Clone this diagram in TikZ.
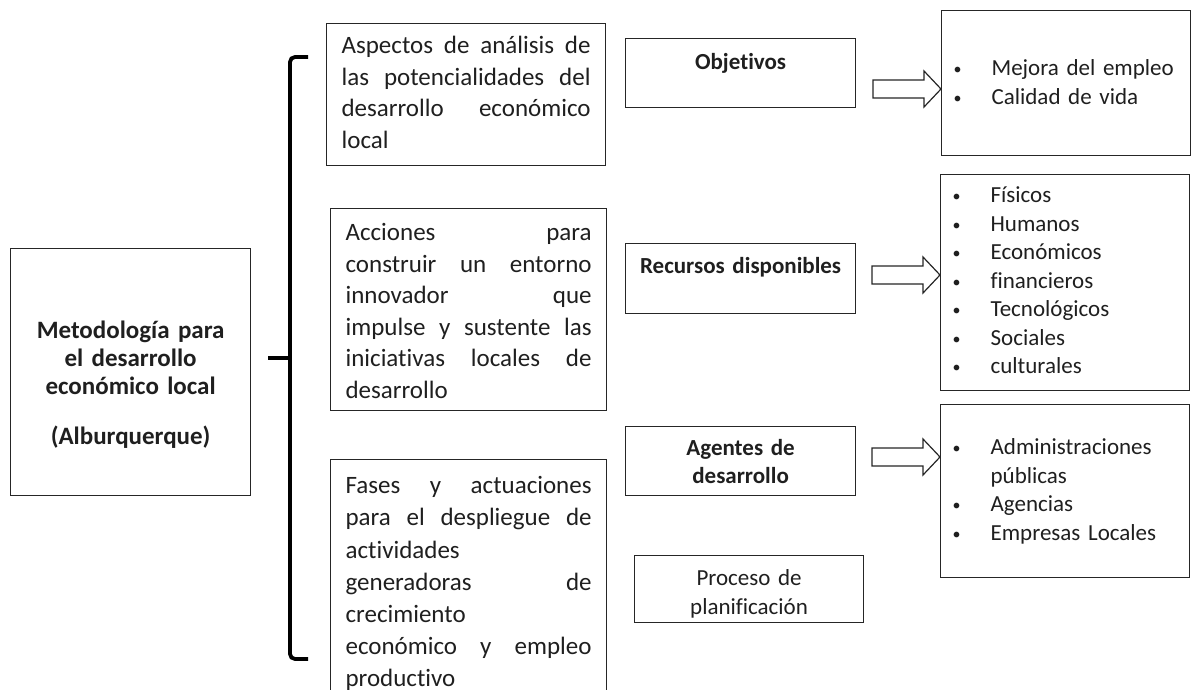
\documentclass[tikz,border=0pt]{standalone}
\usepackage{fontspec}
\setmainfont{Carlito}[Ligatures=NoCommon]
\usetikzlibrary{calc}

% one justified line, one bulleted line
\newcommand\jl[2][246pt]{\leavevmode\hbox to #1{\spaceskip=0.226em plus 1fil\relax #2}}
\newcommand\bul[1]{\makebox[38pt][l]{\raisebox{1pt}{\fontsize{16}{16}\selectfont\textbullet}}#1}

\begin{document}
\begin{tikzpicture}[x=1pt, y=-1pt,
  box/.style={draw=black!85, line width=1.2pt, anchor=north west, inner ysep=0pt, text=black!88},
  longbox/.style={box, inner xsep=15pt, text width=#1, font=\fontsize{25}{31.5}\selectfont},
  tagbox/.style={box, inner xsep=0pt, text width=230pt, align=center, font=\fontsize{23}{28}\selectfont\bfseries},
  listbox/.style={box, inner xsep=12pt, text width=225pt, align=left, font=\fontsize{23}{28.5}\selectfont},
  brace/.style={line width=3.8pt, rounded corners=5pt},
  fatarrow/.pic={\draw[line width=1.2pt, black!85, fill=white]
    (0,0) -- (-17,-18) -- (-17,-9) -- (-68,-9) -- (-68,9) -- (-17,9) -- (-17,18) -- cycle;}]

  \clip (0,0) rectangle (1192,690);

  \node[box, inner xsep=0pt, text width=240pt, align=center,
        font=\fontsize{25}{28}\selectfont\bfseries,
        text height=90pt, text depth=157pt] (method) at (10,248)
    {Metodología para\\ el desarrollo\\ económico local\\[22pt] (Alburquerque)};

  \node[longbox=249pt, text height=30pt, text depth=112pt] (aspects) at (326,23)
    {\jl[249pt]{Aspectos de análisis de}\\ \jl[249pt]{las potencialidades del}\\
     \jl[249pt]{desarrollo económico}\\ local};
  \node[longbox=246pt, text height=32pt, text depth=170pt] (actions) at (330,208)
    {\jl{Acciones para}\\ \jl{construir un entorno}\\ \jl{innovador que}\\
     \jl{impulse y sustente las}\\ \jl{iniciativas locales de}\\ desarrollo};
  \node[longbox=246pt, font=\fontsize{25}{32.2}\selectfont,
        text height=34pt, text depth=216pt] (phases) at (330,459)
    {\jl{Fases y actuaciones}\\ \jl{para el despliegue de}\\ actividades\\
     \jl{generadoras de}\\ crecimiento\\ \jl{económico y empleo}\\ productivo};

  \node[tagbox, text height=31pt, text depth=38pt] (goals) at (625,38) {Objetivos};
  \node[tagbox, text height=30pt, text depth=40pt] (resources) at (625,243) {Recursos disponibles};
  \node[tagbox, text height=29pt, text depth=40pt] (agents) at (625,426) {Agentes de\\ desarrollo};
  \node[tagbox, font=\fontsize{23}{29}\selectfont, text width=229pt,
        text height=30pt, text depth=37pt] (planning) at (634,555) {Proceso de\\ planificación};

  \node[listbox, text height=65pt, text depth=80pt] (goallist) at (941,10)
    {\bul{Mejora del empleo}\\ \bul{Calidad de vida}};
  \node[listbox, text height=28pt, text depth=188pt] (reslist) at (940,174)
    {\bul{Físicos}\\ \bul{Humanos}\\ \bul{Económicos}\\ \bul{financieros}\\
     \bul{Tecnológicos}\\ \bul{Sociales}\\ \bul{culturales}};
  \node[listbox, text height=50pt, text depth=123pt] (agentlist) at (940,404)
    {\bul{Administraciones}\\ \hspace*{38pt}públicas\\ \bul{Agencias}\\ \bul{Empresas Locales}};

  % block arrows
  \pic at (goallist.west |- 0,89) {fatarrow};
  \pic at (reslist.west |- 0,275) {fatarrow};
  \pic at (agentlist.west |- 0,457) {fatarrow};

  % bracket
  \coordinate (braceTop) at (308,57);
  \coordinate (braceBot) at (308,659);
  \coordinate (braceMid) at (268,358);
  \draw[brace] (braceTop) -- ++(-18,0) |- (braceBot);
  \draw[brace] (braceMid) -- ++(22,0);
\end{tikzpicture}
\end{document}
